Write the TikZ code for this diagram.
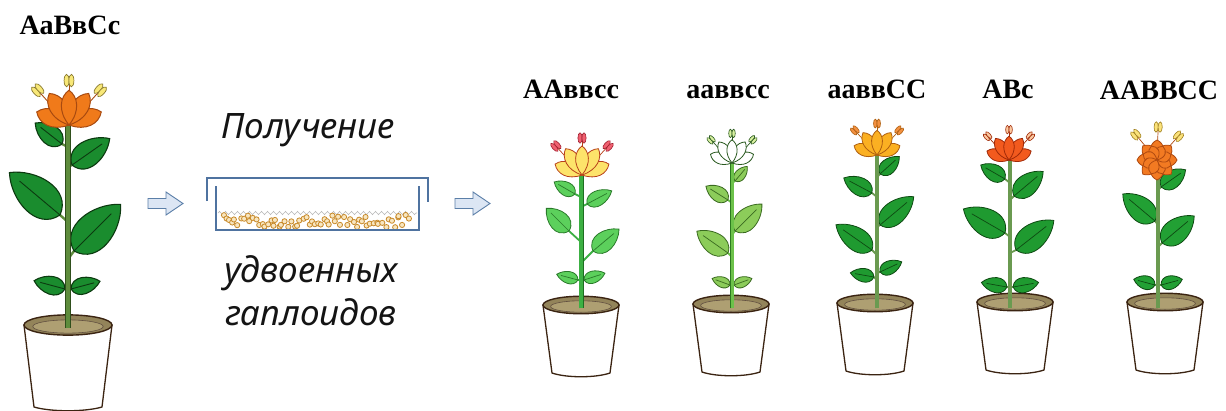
\documentclass[tikz,border=0pt]{standalone}
\usepackage{fontspec}
\setmainfont{Liberation Serif}
\newfontfamily\captfont{Noto Sans}
\usetikzlibrary{decorations.pathmorphing}

\definecolor{potline}{HTML}{3B2412}
\definecolor{rimfill}{HTML}{93845A}
\definecolor{soilfill}{HTML}{AE9F72}
\definecolor{dishblue}{HTML}{4F73A0}
\definecolor{arrowfill}{HTML}{DCE6F4}
\definecolor{arrowline}{HTML}{5B7FA8}
\definecolor{seedline}{HTML}{C88A2A}
\definecolor{seedfill}{HTML}{F8E6C0}
% foliage
\definecolor{HTMLleaf0}{HTML}{1A8C2E}
\definecolor{HTMLleaf0d}{HTML}{0C3A10}
\definecolor{HTMLstem0}{HTML}{5E8C3C}
\definecolor{HTMLstem0d}{HTML}{2F4F1C}
\definecolor{HTMLleaf1}{HTML}{5CD05C}
\definecolor{HTMLleaf1d}{HTML}{2A7A2A}
\definecolor{HTMLstem1}{HTML}{3CB043}
\definecolor{HTMLstem1d}{HTML}{1E6E22}
\definecolor{HTMLleaf2}{HTML}{8CCC5A}
\definecolor{HTMLleaf2d}{HTML}{3A6A20}
\definecolor{HTMLstem2}{HTML}{6CC24A}
\definecolor{HTMLstem2d}{HTML}{2D7A20}
\definecolor{HTMLleaf3}{HTML}{1F9A30}
\definecolor{HTMLleaf3d}{HTML}{0E4A12}
\definecolor{HTMLstem3}{HTML}{6A9A50}
\definecolor{HTMLstem3d}{HTML}{3A5A2A}
\definecolor{HTMLleaf5}{HTML}{22A034}
% flowers
\definecolor{HTMLpet0}{HTML}{F07A1A}
\definecolor{HTMLpet0d}{HTML}{A84A10}
\definecolor{HTMLanth0}{HTML}{F8E878}
\definecolor{HTMLanth0d}{HTML}{8A7A30}
\definecolor{HTMLpet1}{HTML}{FDE36A}
\definecolor{HTMLpet1d}{HTML}{B8401A}
\definecolor{HTMLanth1}{HTML}{F06070}
\definecolor{HTMLanth1d}{HTML}{A02030}
\definecolor{HTMLpet2d}{HTML}{2A5A20}
\definecolor{HTMLanth2}{HTML}{D8F0A0}
\definecolor{HTMLpet3}{HTML}{FBB022}
\definecolor{HTMLpet3d}{HTML}{B06010}
\definecolor{HTMLanth3}{HTML}{F39040}
\definecolor{HTMLpet4}{HTML}{F25A1E}
\definecolor{HTMLpet4d}{HTML}{A02A08}
\definecolor{HTMLanth4}{HTML}{FBC8A0}
\definecolor{HTMLpet5}{HTML}{F27A22}
\definecolor{HTMLpet5d}{HTML}{B04A10}
\definecolor{HTMLanth5}{HTML}{FBE27A}
\definecolor{HTMLanth5d}{HTML}{A08020}

\tikzset{
  gen/.style={font=\bfseries\fontsize{28}{30}\selectfont, inner sep=0pt, anchor=base},
  captxt/.style={font=\captfont\itshape\fontsize{35}{40}\selectfont, inner sep=0pt, anchor=base, text=black!92},
  potbody/.style={fill=white, draw=potline, line width=1.3pt, line join=round},
  potrim/.style={fill=rimfill, draw=potline, line width=1.4pt},
  potsoil/.style={fill=soilfill, draw=potline!80, line width=0.6pt},
  blockarrow/.style={fill=arrowfill, draw=arrowline, line width=0.9pt, line join=miter},
  dish/.style={draw=dishblue, line width=1.6pt},
  seed/.style={draw=seedline, fill=seedfill, line width=0.8pt},
  leafsty/.style={fill=green!60!black, draw=green!30!black, line width=0.8pt},
  ribsty/.style={draw=green!25!black, line width=0.7pt},
  petiole/.style={draw=green!50!black, line width=1.8pt},
  stemout/.style={draw=green!30!black, line width=4.4pt},
  stemin/.style={draw=green!50!black, line width=2.8pt},
  petalsty/.style={fill=orange, draw=orange!60!black, line width=0.8pt},
  stamensty/.style={draw=brown, line width=0.7pt},
  anthersty/.style={fill=yellow, draw=brown, line width=0.6pt},
}

% a leaf on a short petiole: attach point, leaf base, angle, length, width
\newcommand\leaf[5]{%
  \draw[petiole] #1 -- #2;
  \begin{scope}[shift={#2}, rotate=#3]
    \draw[leafsty] (0,0) .. controls (0.12*#4,1.15*#5) and (0.72*#4,0.85*#5) .. (#4,0)
      .. controls (0.72*#4,-0.85*#5) and (0.12*#4,-1.15*#5) .. (0,0) -- cycle;
    \draw[ribsty] (0,0) -- (0.8*#4,0);
  \end{scope}}

% one petal, narrow at its base: angle, length, width
\newcommand\petal[3]{%
  \begin{scope}[rotate=#1]
    \draw[petalsty] (0,0) .. controls (0.4*#2,0.95*#3) and (0.82*#2,0.75*#3) .. (#2,0)
      .. controls (0.82*#2,-0.75*#3) and (0.4*#2,-0.95*#3) .. (0,0) -- cycle;
  \end{scope}}

% one stamen with a two-lobed anther: angle, length
\newcommand\stamen[2]{%
  \draw[stamensty] (0,0) -- (#1:#2);
  \begin{scope}[shift={(#1:#2)}, rotate=#1-90]
    \draw[anthersty] (-2,1) ellipse [x radius=2.1, y radius=5.2];
    \draw[anthersty] (2,1) ellipse [x radius=2.1, y radius=5.2];
  \end{scope}}

\newcommand\cupflower{%
  \stamen{132}{38}\stamen{90}{36}\stamen{48}{38}
  \petal{22}{29}{11}\petal{158}{29}{11}\petal{58}{31}{11}\petal{122}{31}{11}\petal{90}{29}{10}}

\newcommand\doubleflower{%
  \stamen{130}{32}\stamen{88}{32}\stamen{48}{31}
  \foreach \a in {-90,-45,0,45,90,135,180,225}{\petal{\a}{20}{10}}
  \foreach \a in {-67,-22,22,67,112,157,202,247}{\petal{\a}{15}{8}}}

% flower pot: rim half-width, height, bottom half-width
\newcommand\pot[3]{%
  \draw[potbody] (-#1,0) -- (-#3,-#2) .. controls (-0.5*#3,-#2-5) and (0.5*#3,-#2-5) .. (#3,-#2) -- (#1,0) -- cycle;
  \draw[potrim] (0,0) ellipse [x radius=#1, y radius=0.23*#1];
  \draw[potsoil] (0,-1.5) ellipse [x radius=0.8*#1, y radius=0.15*#1];}

\newcommand\stem[1]{%
  \draw[stemout] (0,-3) -- (0,#1);
  \draw[stemin] (0,-3) -- (0,#1);}

\begin{document}
\begin{tikzpicture}[x=1pt, y=1pt]
\useasboundingbox (0,0) rectangle (1226,-410);
\fill[white] (0,0) rectangle (1226,-410);

% ---------- parent plant ----------
\node[gen] (gp) at (70,-34) {АаВвСс};
\begin{scope}[shift={(68,-325)},
  leafsty/.style={fill=HTMLleaf0, draw=HTMLleaf0d, line width=1.1pt},
  ribsty/.style={draw=HTMLleaf0d, line width=0.9pt},
  petiole/.style={draw=HTMLstem0, line width=2.4pt},
  stemout/.style={draw=HTMLstem0d, line width=6pt},
  stemin/.style={draw=HTMLstem0, line width=4.2pt},
  petalsty/.style={fill=HTMLpet0, draw=HTMLpet0d, line width=1pt},
  stamensty/.style={draw=HTMLpet0d, line width=0.9pt},
  anthersty/.style={fill=HTMLanth0, draw=HTMLanth0d, line width=0.7pt}]
  \pot{44}{82}{34}
  \leaf{(0,178)}{(-6,181)}{142}{34}{13}
  \leaf{(0,158)}{(4,160)}{35}{46}{17}
  \leaf{(0,103)}{(-8,110)}{140}{66}{24}
  \leaf{(0,66)}{(6,74)}{45}{66}{24}
  \leaf{(0,36)}{(-3,36)}{165}{32}{12}
  \leaf{(0,36)}{(3,36)}{15}{30}{11}
  \stem{200}
  \begin{scope}[shift={(1,200)}, scale=1.2]\cupflower\end{scope}
\end{scope}

% ---------- arrows and dish ----------
\draw[blockarrow] (148,-198.5) -- (166,-198.5) -- (166,-192) -- (183,-203.5)
  -- (166,-215) -- (166,-208.5) -- (148,-208.5) -- cycle;
\draw[blockarrow] (455,-198.5) -- (473,-198.5) -- (473,-192) -- (490,-203.5)
  -- (473,-215) -- (473,-208.5) -- (455,-208.5) -- cycle;

\node[captxt] (t1) at (308,-138) {Получение};
\node[captxt] (t2) at (311,-282) {удвоенных};
\node[captxt] (t3) at (311,-325) {гаплоидов};

\draw[dish] (207,-201) -- (207,-178) -- (428,-178) -- (428,-202);
\draw[draw=gray!55, line width=0.6pt, decorate,
  decoration={zigzag, segment length=6pt, amplitude=1.6pt}] (218,-213) -- (417,-213);
% seeds spread along the dish bottom
\pgfmathsetseed{11}
\foreach \i in {0,...,63}{
  \pgfmathsetmacro\sx{223+2.95*\i+1.5*rand}
  \pgfmathsetmacro\sy{-227.5+13*rnd}
  \draw[seed] (\sx,\sy) circle (2.6);
}
\draw[dish] (216,-186) -- (216,-230) -- (419,-230) -- (419,-186);

% ---------- offspring ----------
\node[gen] (g1) at (571,-98) {ААввсс};
\node[gen] (g2) at (728,-98) {ааввсс};
\node[gen] (g3) at (877,-98) {ааввСС};
\node[gen] (g4) at (1008,-98) {АВс};
\node[gen] (g5) at (1159,-99) {ААВВСС};

% plant 1
\begin{scope}[shift={(581,-305)},
  leafsty/.style={fill=HTMLleaf1, draw=HTMLleaf1d, line width=0.8pt},
  ribsty/.style={draw=HTMLleaf1d, line width=0.7pt},
  petiole/.style={draw=HTMLstem1, line width=1.8pt},
  stemout/.style={draw=HTMLstem1d, line width=5pt},
  stemin/.style={draw=HTMLstem1, line width=3.4pt},
  petalsty/.style={fill=HTMLpet1, draw=HTMLpet1d, line width=0.8pt},
  stamensty/.style={draw=HTMLpet1d, line width=0.7pt},
  anthersty/.style={fill=HTMLanth1, draw=HTMLanth1d, line width=0.6pt}]
  \pot{38}{68}{29}
  \leaf{(0,108)}{(-6,111)}{150}{24}{9}
  \leaf{(0,98)}{(6,101)}{28}{28}{10}
  \leaf{(0,63)}{(-12,74)}{135}{32}{13}
  \leaf{(0,42)}{(12,54)}{40}{34}{13}
  \leaf{(0,25)}{(-3,25)}{165}{22}{8}
  \leaf{(0,25)}{(3,25)}{18}{22}{8}
  \stem{130}
  \begin{scope}[shift={(1,130)}]\cupflower\end{scope}
\end{scope}

% plant 2
\begin{scope}[shift={(732,-305)},
  leafsty/.style={fill=HTMLleaf2, draw=HTMLleaf2d, line width=0.8pt},
  ribsty/.style={draw=HTMLleaf2d, line width=0.7pt},
  petiole/.style={draw=HTMLstem2, line width=1.8pt},
  stemout/.style={draw=HTMLstem2d, line width=4.6pt},
  stemin/.style={draw=HTMLstem2, line width=3pt},
  petalsty/.style={fill=white, draw=HTMLpet2d, line width=0.8pt},
  stamensty/.style={draw=HTMLpet2d, line width=0.7pt},
  anthersty/.style={fill=HTMLanth2, draw=HTMLpet2d, line width=0.6pt}]
  \begin{scope}[shift={(-1,1)}]\pot{38}{68}{29}\end{scope}
  \leaf{(0,122)}{(3,124)}{50}{19}{7}
  \leaf{(0,102)}{(-4,105)}{148}{26}{10}
  \leaf{(0,70)}{(3,74)}{45}{38}{14}
  \leaf{(0,48)}{(-4,52)}{145}{38}{14}
  \leaf{(0,20)}{(-2,20)}{160}{19}{7}
  \leaf{(0,20)}{(2,20)}{20}{19}{7}
  \stem{142}
  \begin{scope}[shift={(0,142)}, scale=0.8]\cupflower\end{scope}
\end{scope}

% plant 3
\begin{scope}[shift={(877,-305)},
  leafsty/.style={fill=HTMLleaf3, draw=HTMLleaf3d, line width=0.8pt},
  ribsty/.style={draw=HTMLleaf3d, line width=0.7pt},
  petiole/.style={draw=HTMLstem3, line width=1.8pt},
  stemout/.style={draw=HTMLstem3d, line width=4.8pt},
  stemin/.style={draw=HTMLstem3, line width=3.2pt},
  petalsty/.style={fill=HTMLpet3, draw=HTMLpet3d, line width=0.8pt},
  stamensty/.style={draw=HTMLpet3d, line width=0.7pt},
  anthersty/.style={fill=HTMLanth3, draw=HTMLpet3d, line width=0.6pt}]
  \begin{scope}[shift={(-2,2)}]\pot{38}{68}{29}\end{scope}
  \leaf{(0,128)}{(3,131)}{42}{26}{10}
  \leaf{(0,108)}{(-5,112)}{152}{32}{12}
  \leaf{(0,78)}{(3,80)}{40}{44}{15}
  \leaf{(0,50)}{(-5,55)}{145}{44}{15}
  \leaf{(0,25)}{(-3,28)}{170}{24}{9}
  \leaf{(0,32)}{(3,33)}{25}{24}{9}
  \stem{150}
  \begin{scope}[shift={(0,150)}, scale=0.85]\cupflower\end{scope}
\end{scope}

% plant 4
\begin{scope}[shift={(1010,-305)},
  leafsty/.style={fill=HTMLleaf3, draw=HTMLleaf3d, line width=0.8pt},
  ribsty/.style={draw=HTMLleaf3d, line width=0.7pt},
  petiole/.style={draw=HTMLstem3, line width=1.8pt},
  stemout/.style={draw=HTMLstem3d, line width=4.8pt},
  stemin/.style={draw=HTMLstem3, line width=3.2pt},
  petalsty/.style={fill=HTMLpet4, draw=HTMLpet4d, line width=0.8pt},
  stamensty/.style={draw=HTMLpet4d, line width=0.7pt},
  anthersty/.style={fill=HTMLanth4, draw=HTMLpet4d, line width=0.6pt}]
  \begin{scope}[shift={(5,3)}]\pot{38}{68}{29}\end{scope}
  \leaf{(0,122)}{(-5,126)}{150}{28}{11}
  \leaf{(0,105)}{(4,109)}{40}{38}{14}
  \leaf{(0,68)}{(-5,72)}{150}{48}{18}
  \leaf{(0,52)}{(6,55)}{38}{48}{17}
  \leaf{(0,18)}{(-3,18)}{170}{26}{10}
  \leaf{(0,18)}{(3,18)}{10}{26}{10}
  \stem{145}
  \begin{scope}[shift={(-1,145)}, scale=0.82]\cupflower\end{scope}
\end{scope}

% plant 5
\begin{scope}[shift={(1158,-305)},
  leafsty/.style={fill=HTMLleaf5, draw=HTMLleaf3d, line width=0.8pt},
  ribsty/.style={draw=HTMLleaf3d, line width=0.7pt},
  petiole/.style={draw=HTMLstem3, line width=1.8pt},
  stemout/.style={draw=HTMLstem3d, line width=4.8pt},
  stemin/.style={draw=HTMLstem3, line width=3.2pt},
  petalsty/.style={fill=HTMLpet5, draw=HTMLpet5d, line width=0.8pt},
  stamensty/.style={draw=HTMLpet5d, line width=0.7pt},
  anthersty/.style={fill=HTMLanth5, draw=HTMLanth5d, line width=0.6pt}]
  \begin{scope}[shift={(7,3)}]\pot{38}{68}{29}\end{scope}
  \leaf{(0,115)}{(3,118)}{35}{30}{12}
  \leaf{(0,80)}{(-3,84)}{140}{42}{16}
  \leaf{(0,58)}{(4,62)}{40}{42}{16}
  \leaf{(0,20)}{(-3,20)}{165}{22}{9}
  \leaf{(0,20)}{(3,20)}{15}{22}{9}
  \stem{145}
  \begin{scope}[shift={(-1,145)}]\doubleflower\end{scope}
\end{scope}
\end{tikzpicture}
\end{document}
